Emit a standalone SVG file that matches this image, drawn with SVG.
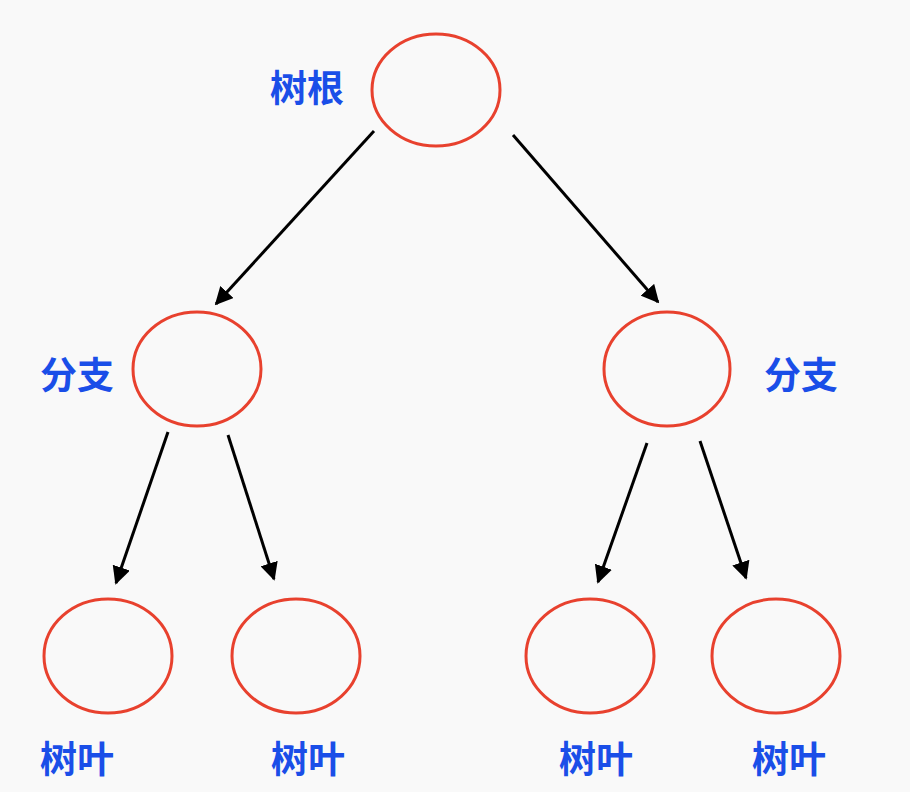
<svg xmlns="http://www.w3.org/2000/svg" width="910" height="792" viewBox="0 0 910 792">
<style>
.n{fill:none;stroke:#e8412e;stroke-width:3}
.c line{stroke:#000;stroke-width:3;marker-end:url(#a)}
.t{font-family:"Noto Sans CJK SC",sans-serif;font-weight:bold;font-size:37px;fill:#1a4ee8}
</style>
<defs><marker id="a" viewBox="0 0 10 10" refX="9" refY="5" markerWidth="6" markerHeight="6" markerUnits="strokeWidth" orient="auto"><path d="M0,0L10,5L0,10z" fill="#000"/></marker></defs>
<rect width="910" height="792" fill="#f9f9f9"/>
<g id="root"><ellipse class="n" cx="436" cy="90" rx="64" ry="56"/><text class="t" x="270" y="102">树根</text></g>
<g id="branchL"><ellipse class="n" cx="197" cy="369" rx="64" ry="57"/><text class="t" x="40" y="389">分支</text></g>
<g id="branchR"><ellipse class="n" cx="667" cy="369" rx="63" ry="57"/><text class="t" x="764" y="389">分支</text></g>
<g id="leaf1"><ellipse class="n" cx="108" cy="656" rx="64" ry="57"/><text class="t" x="40" y="773">树叶</text></g>
<g id="leaf2"><ellipse class="n" cx="296" cy="656" rx="64" ry="57"/><text class="t" x="271" y="773">树叶</text></g>
<g id="leaf3"><ellipse class="n" cx="590" cy="656" rx="64" ry="57"/><text class="t" x="559" y="773">树叶</text></g>
<g id="leaf4"><ellipse class="n" cx="776" cy="656" rx="64" ry="57"/><text class="t" x="752" y="773">树叶</text></g>
<g class="c">
<line x1="374" y1="131" x2="216" y2="304"/>
<line x1="513" y1="135" x2="658" y2="302"/>
<line x1="168" y1="432" x2="116" y2="583"/>
<line x1="228" y1="435" x2="274" y2="579"/>
<line x1="647" y1="443" x2="598" y2="582"/>
<line x1="700" y1="441" x2="746" y2="578"/>
</g>
</svg>
